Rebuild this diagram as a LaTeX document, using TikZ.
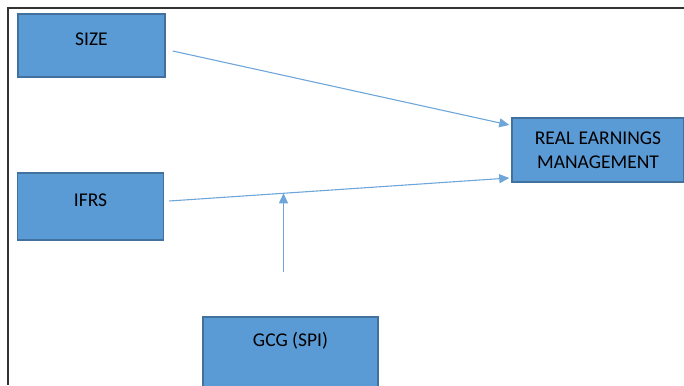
\documentclass[tikz,border=0pt]{standalone}
\usepackage{fontspec}
\setmainfont{Carlito}
\usetikzlibrary{arrows.meta}
\definecolor{boxfill}{HTML}{5B9BD5}
\definecolor{boxline}{HTML}{41719C}
\definecolor{linkcol}{HTML}{6FA6DA}
\definecolor{framecol}{HTML}{333333}
\begin{document}
\begin{tikzpicture}[x = 1pt, y = -1pt,
        box/.style = {draw = boxline, line width = 1.5pt, fill = boxfill, inner sep = 0pt,
                      align = center, font = \fontsize{19.5}{24}\selectfont},
        link/.style = {draw = linkcol, line width = 1.1pt, -{Triangle[length = 10pt, width = 9pt]}}]
                    \clip (0, 0) rectangle (684, 385);
                    \draw[framecol, line width = 1.5pt] (8, 385) -- (8, 8) -- (684, 8);

                    \node[box, minimum width = 147pt, minimum height = 63pt, text height = 13pt, text depth = 13pt] (size) at (91.5, 45.5) {SIZE};
                    \node[box, minimum width = 146pt, minimum height = 67pt, text height = 13pt, text depth = 13pt] (ifrs) at (90.5, 206.5) {IFRS};
                    \node[box, minimum width = 172pt, minimum height = 64pt] (rem) at (598, 150) {REAL EARNINGS\\MANAGEMENT};
                    \node[box, minimum width = 175pt, minimum height = 90pt, text height = 13pt, text depth = 44pt] (gcg) at (290.5, 362) {GCG (SPI)};

                    \draw[link] ([xshift = 7pt, yshift = -5.5pt]size.east) -- ([xshift = -2pt, yshift = 25pt]rem.west);
                    \draw[link] ([xshift = 5pt, yshift = 5.5pt]ifrs.east) -- coordinate[pos = 0.336] (mod) ([xshift = -2pt, yshift = -28pt]rem.west);

                    \coordinate (gcgtail) at (mod |- 0, 272);
                    \draw[link] (gcgtail) -- (mod);
                \end{tikzpicture}
\end{document}
